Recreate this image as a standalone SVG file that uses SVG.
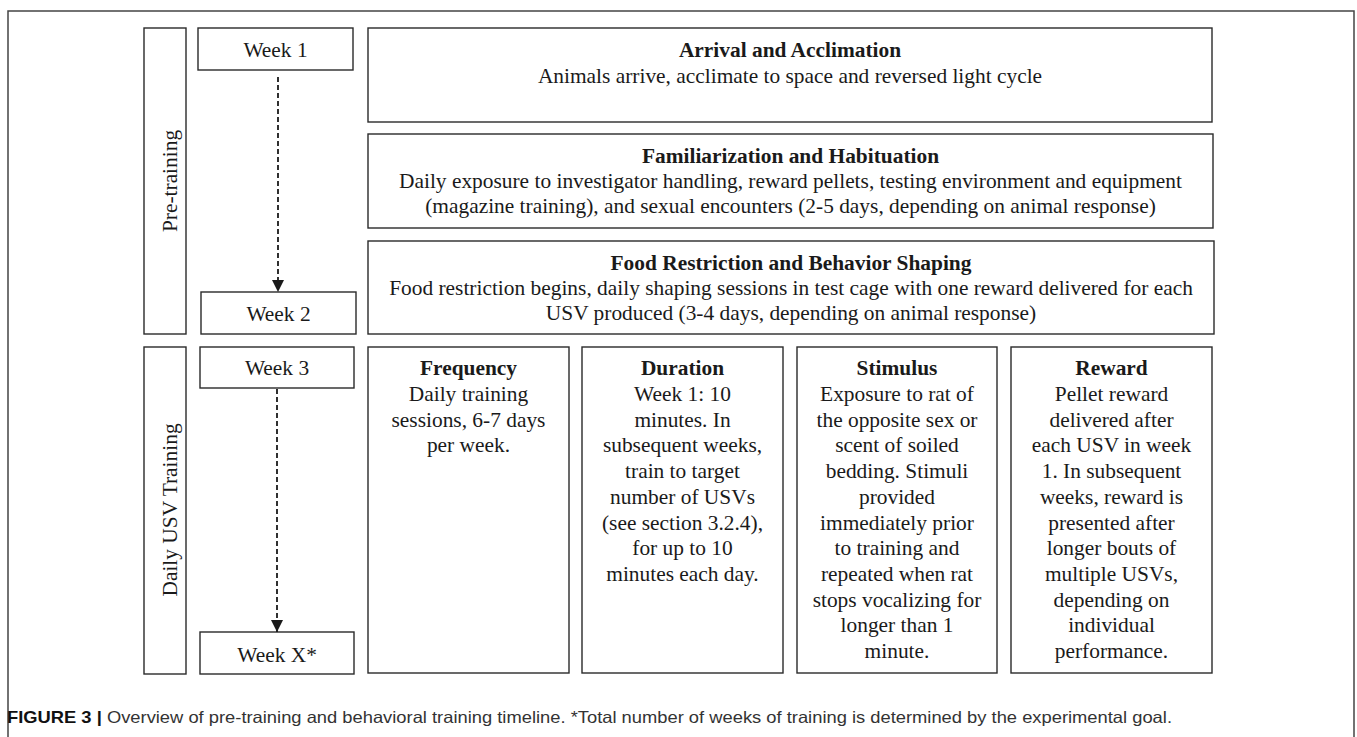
<svg xmlns="http://www.w3.org/2000/svg" width="1357" height="737" viewBox="0 0 1357 737">
<defs>
<style>
.bx{fill:#fff;stroke:#2a2a2a;stroke-width:1.4}
.t{font-family:"Liberation Serif","Times New Roman",serif;font-size:21.4px;fill:#1a1a1a;text-anchor:middle}
.b{font-weight:bold}
.cap{font-family:"Liberation Sans",Arial,sans-serif;font-size:16.5px;fill:#333}
.dash{stroke:#1a1a1a;stroke-width:1.8;stroke-dasharray:5 3;fill:none}
</style>
<marker id="ah" markerWidth="12" markerHeight="12" viewBox="0 0 12 12" refX="12" refY="6" orient="auto" markerUnits="userSpaceOnUse">
<path d="M0,0 L12,6 L0,12 Z" fill="#1a1a1a"/>
</marker>
</defs>
<rect width="1357" height="737" fill="#fff"/>
<path d="M8,745 V11 H1354 V745" fill="none" stroke="#444" stroke-width="1.5"/>

<g id="phase-pretraining">
<rect class="bx" x="144" y="28" width="42" height="306"/>
<text class="t" transform="translate(177,181) rotate(-90)">Pre-training</text>
</g>
<g id="phase-daily">
<rect class="bx" x="144" y="347" width="42" height="327"/>
<text class="t" transform="translate(177,510) rotate(-90)">Daily USV Training</text>
</g>

<g id="week1"><rect class="bx" x="198" y="28" width="155" height="42"/><text class="t" x="275.5" y="57">Week 1</text></g>
<g id="week2"><rect class="bx" x="201" y="292" width="155" height="42"/><text class="t" x="278.5" y="321">Week 2</text></g>
<g id="week3"><rect class="bx" x="200" y="347" width="154" height="41"/><text class="t" x="277" y="375">Week 3</text></g>
<g id="weekx"><rect class="bx" x="200" y="632" width="154" height="42"/><text class="t" x="277" y="662">Week X*</text></g>

<g id="connectors">
<line class="dash" x1="278" y1="77" x2="278" y2="292" marker-end="url(#ah)"/>
<line class="dash" x1="277" y1="389" x2="277" y2="632" marker-end="url(#ah)"/>
</g>

<g id="arrival">
<rect class="bx" x="368" y="28" width="844" height="94"/>
<text class="t"><tspan class="b" x="790" y="57">Arrival and Acclimation</tspan><tspan x="790" y="83">Animals arrive, acclimate to space and reversed light cycle</tspan></text>
</g>
<g id="familiarization">
<rect class="bx" x="368" y="134" width="845" height="94"/>
<text class="t"><tspan class="b" x="790.5" y="163">Familiarization and Habituation</tspan><tspan x="790.5" y="188">Daily exposure to investigator handling, reward pellets, testing environment and equipment</tspan><tspan x="790.5" y="213">(magazine training), and sexual encounters (2-5 days, depending on animal response)</tspan></text>
</g>
<g id="food">
<rect class="bx" x="368" y="241" width="846" height="93"/>
<text class="t"><tspan class="b" x="791" y="270">Food Restriction and Behavior Shaping</tspan><tspan x="791" y="295">Food restriction begins, daily shaping sessions in test cage with one reward delivered for each</tspan><tspan x="791" y="320">USV produced (3-4 days, depending on animal response)</tspan></text>
</g>

<g id="frequency">
<rect class="bx" x="368" y="347" width="201" height="326"/>
<text class="t"><tspan class="b" x="468.5" y="375">Frequency</tspan><tspan x="468.5" y="401">Daily training</tspan><tspan x="468.5" y="427">sessions, 6-7 days</tspan><tspan x="468.5" y="452">per week.</tspan></text>
</g>
<g id="duration">
<rect class="bx" x="582" y="347" width="201" height="326"/>
<text class="t"><tspan class="b" x="682.5" y="375">Duration</tspan><tspan x="682.5" y="401">Week 1: 10</tspan><tspan x="682.5" y="427">minutes. In</tspan><tspan x="682.5" y="452">subsequent weeks,</tspan><tspan x="682.5" y="478">train to target</tspan><tspan x="682.5" y="504">number of USVs</tspan><tspan x="682.5" y="530">(see section 3.2.4),</tspan><tspan x="682.5" y="555">for up to 10</tspan><tspan x="682.5" y="581">minutes each day.</tspan></text>
</g>
<g id="stimulus">
<rect class="bx" x="797" y="347" width="200" height="326"/>
<text class="t"><tspan class="b" x="897" y="375">Stimulus</tspan><tspan x="897" y="401">Exposure to rat of</tspan><tspan x="897" y="427">the opposite sex or</tspan><tspan x="897" y="452">scent of soiled</tspan><tspan x="897" y="478">bedding. Stimuli</tspan><tspan x="897" y="504">provided</tspan><tspan x="897" y="530">immediately prior</tspan><tspan x="897" y="555">to training and</tspan><tspan x="897" y="581">repeated when rat</tspan><tspan x="897" y="607">stops vocalizing for</tspan><tspan x="897" y="632">longer than 1</tspan><tspan x="897" y="658">minute.</tspan></text>
</g>
<g id="reward">
<rect class="bx" x="1011" y="347" width="201" height="326"/>
<text class="t"><tspan class="b" x="1111.5" y="375">Reward</tspan><tspan x="1111.5" y="401">Pellet reward</tspan><tspan x="1111.5" y="427">delivered after</tspan><tspan x="1111.5" y="452">each USV in week</tspan><tspan x="1111.5" y="478">1. In subsequent</tspan><tspan x="1111.5" y="504">weeks, reward is</tspan><tspan x="1111.5" y="530">presented after</tspan><tspan x="1111.5" y="555">longer bouts of</tspan><tspan x="1111.5" y="581">multiple USVs,</tspan><tspan x="1111.5" y="607">depending on</tspan><tspan x="1111.5" y="632">individual</tspan><tspan x="1111.5" y="658">performance.</tspan></text>
</g>

<text class="cap" x="7" y="723" textLength="1165" lengthAdjust="spacingAndGlyphs"><tspan font-weight="bold" fill="#111">FIGURE 3 | </tspan>Overview of pre-training and behavioral training timeline. *Total number of weeks of training is determined by the experimental goal.</text>
</svg>
